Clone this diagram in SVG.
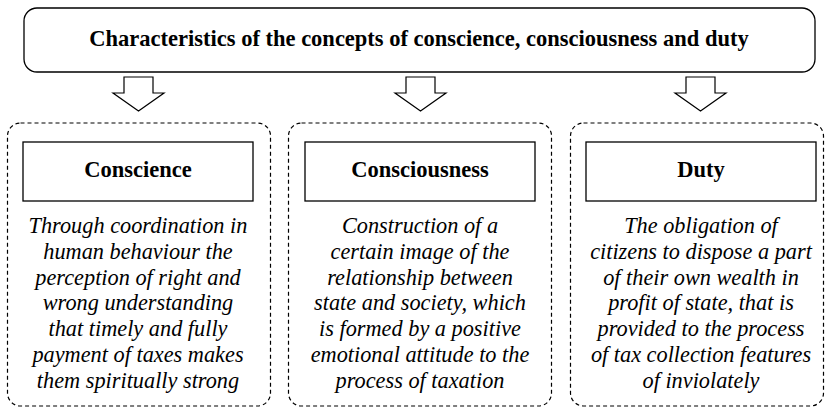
<svg xmlns="http://www.w3.org/2000/svg" width="827" height="408" viewBox="0 0 827 408">
<style>
.frame{fill:#fff;stroke:#000;stroke-width:1.3}
.dash{fill:none;stroke:#000;stroke-width:1.2;stroke-dasharray:4,3}
.arrow{fill:#fff;stroke:#000;stroke-width:1.2;stroke-linejoin:miter}
</style>
<rect width="827" height="408" fill="#fff"/>
<g id="title">
<rect class="frame" x="24" y="8" width="791" height="64" rx="13"/>
<text font-family="Liberation Serif" font-weight="bold" font-size="22.5" text-anchor="middle" x="419" y="46">Characteristics of the concepts of conscience, consciousness and duty</text>
</g>
<g id="connectors">
<path class="arrow" d="M124,77 H153 V93 H164 L138.5,111 L113,93 H124 Z"/>
<path class="arrow" d="M406,77 H435 V93 H446 L420.5,111 L395,93 H406 Z"/>
<path class="arrow" d="M686,77 H715 V93 H726 L700.5,111 L675,93 H686 Z"/>
</g>
<g id="conscience">
<rect class="dash" x="7.5" y="123" width="263" height="283" rx="13"/>
<rect class="frame" x="23" y="142" width="230" height="59"/>
<text font-family="Liberation Serif" font-weight="bold" font-size="22.5" text-anchor="middle" x="138" y="177">Conscience</text>
<text font-family="Liberation Serif" font-style="italic" font-size="22.3" text-anchor="middle"><tspan x="138" y="233">Through coordination in</tspan><tspan x="138" y="259">human behaviour the</tspan><tspan x="138" y="285">perception of right and</tspan><tspan x="138" y="310">wrong understanding</tspan><tspan x="138" y="336">that timely and fully</tspan><tspan x="138" y="362">payment of taxes makes</tspan><tspan x="138" y="388">them spiritually strong</tspan></text>
</g>
<g id="consciousness">
<rect class="dash" x="288.5" y="123" width="263" height="283" rx="13"/>
<rect class="frame" x="305" y="142" width="230" height="59"/>
<text font-family="Liberation Serif" font-weight="bold" font-size="22.5" text-anchor="middle" x="420" y="177">Consciousness</text>
<text font-family="Liberation Serif" font-style="italic" font-size="22.3" text-anchor="middle"><tspan x="420" y="233">Construction of a</tspan><tspan x="420" y="259">certain image of the</tspan><tspan x="420" y="285">relationship between</tspan><tspan x="420" y="310">state and society, which</tspan><tspan x="420" y="336">is formed by a positive</tspan><tspan x="420" y="362">emotional attitude to the</tspan><tspan x="420" y="388">process of taxation</tspan></text>
</g>
<g id="duty">
<rect class="dash" x="570.5" y="123" width="253" height="283" rx="13"/>
<rect class="frame" x="586" y="142" width="230" height="59"/>
<text font-family="Liberation Serif" font-weight="bold" font-size="22.5" text-anchor="middle" x="701" y="177">Duty</text>
<text font-family="Liberation Serif" font-style="italic" font-size="22.3" text-anchor="middle"><tspan x="701" y="233">The obligation of</tspan><tspan x="701" y="259">citizens to dispose a part</tspan><tspan x="701" y="285">of their own wealth in</tspan><tspan x="701" y="310">profit of state, that is</tspan><tspan x="701" y="336">provided to the process</tspan><tspan x="701" y="362">of tax collection features</tspan><tspan x="701" y="388">of inviolately</tspan></text>
</g>
</svg>
